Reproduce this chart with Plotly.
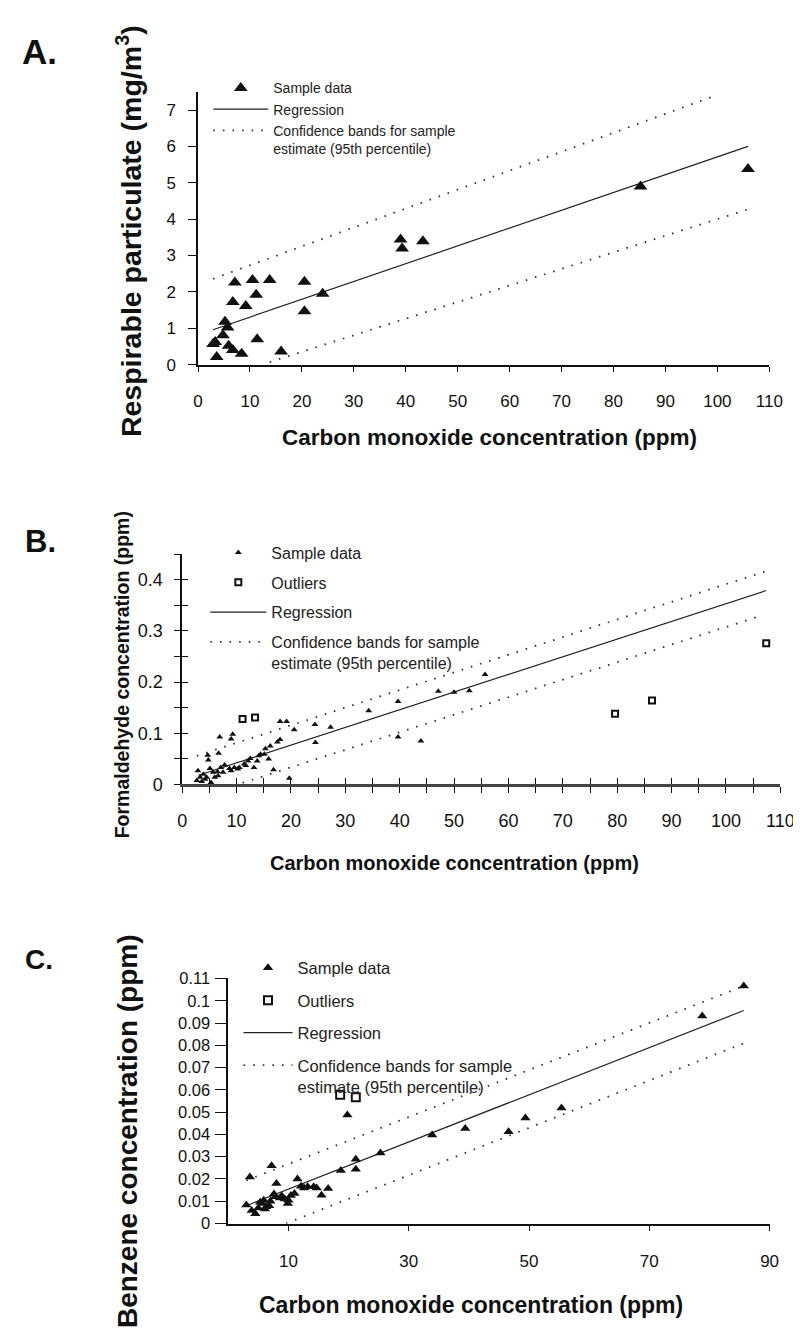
import plotly.graph_objects as go

W, H = 801, 1330
FONT = "Liberation Sans, Arial, sans-serif"
INK = "#111111"

# ---------------- Panel A: respirable particulate vs CO ----------------
A_CO = [2.9, 3.3, 3.6, 4.8, 5.2, 5.7, 5.9, 6.7, 6.7, 7.1, 8.4, 9.2, 10.5, 11.2,
        11.4, 13.8, 16.0, 20.5, 20.5, 24.0, 39.0, 39.3, 43.3, 85.2, 105.9]
A_RP = [0.57, 0.62, 0.21, 0.81, 1.18, 1.02, 0.52, 0.40, 1.72, 2.26, 0.30, 1.61, 2.33, 1.92,
        0.70, 2.33, 0.36, 2.28, 1.47, 1.95, 3.44, 3.19, 3.39, 4.90, 5.38]
A_REG_X = [2.9, 105.9]
A_REG_Y = [0.96, 6.0]
A_UP_X = [2.9, 99.5]
A_UP_Y = [2.36, 7.39]
A_LO_X = [13.8, 105.9]
A_LO_Y = [0.07, 4.27]
A_X_TICKS = [0, 10, 20, 30, 40, 50, 60, 70, 80, 90, 100, 110]
A_Y_TICKS = [0, 1, 2, 3, 4, 5, 6, 7]

# ---------------- Panel B: formaldehyde vs CO ----------------
B_CO = [55.7, 47.1, 50.0, 52.8, 39.7, 34.3, 27.3, 24.4, 24.5, 20.6, 18.0, 19.2, 39.7, 43.9,
        19.7, 16.8, 6.9, 9.3, 9.0, 4.7, 6.7, 18.0, 17.5, 16.2, 15.3, 14.4, 15.1, 15.9,
        12.5, 12.1, 13.2, 11.4, 10.5, 9.6, 8.7, 7.8, 7.1, 6.5, 5.7, 5.1, 4.8, 5.3, 4.5,
        3.9, 3.3, 2.9, 2.7, 3.6, 4.2, 6.0, 6.6, 7.5, 9.0, 10.2, 11.7, 13.8, 14.1, 5.5]
B_HCHO = [0.215, 0.182, 0.180, 0.183, 0.162, 0.144, 0.112, 0.117, 0.082, 0.107, 0.123, 0.123,
          0.093, 0.085, 0.012, 0.029, 0.093, 0.098, 0.089, 0.057, 0.061, 0.088, 0.083, 0.075,
          0.070, 0.059, 0.059, 0.050, 0.051, 0.046, 0.033, 0.040, 0.033, 0.033, 0.031, 0.038,
          0.033, 0.025, 0.024, 0.031, 0.048, 0.004, 0.014, 0.020, 0.014, 0.027, 0.008, 0.006,
          0.010, 0.014, 0.017, 0.024, 0.027, 0.030, 0.037, 0.046, 0.056, 0.000]
B_OUT_CO = [11.1, 13.4, 79.6, 86.4, 107.4]
B_OUT_HCHO = [0.128, 0.131, 0.138, 0.164, 0.276]
B_REG_X = [3.0, 107.4]
B_REG_Y = [0.018, 0.379]
B_UP_X = [2.7, 107.4]
B_UP_Y = [0.056, 0.417]
B_LO_X = [11.1, 106.8]
B_LO_Y = [0.003, 0.331]
B_X_TICKS = [0, 10, 20, 30, 40, 50, 60, 70, 80, 90, 100, 110]
B_Y_TICKS = [0, 0.1, 0.2, 0.3, 0.4]

# ---------------- Panel C: benzene vs CO ----------------
C_CO = [3.6, 7.2, 3.0, 3.9, 4.5, 5.0, 5.6, 5.9, 6.3, 6.8, 7.6, 8.0, 7.8, 8.6, 9.4, 9.9,
        10.4, 11.0, 11.5, 12.1, 13.2, 14.2, 14.7, 15.5, 16.6, 18.7, 21.2, 21.2, 25.3, 19.8,
        33.9, 39.4, 46.6, 49.4, 55.4, 78.8, 85.7, 5.3, 6.1, 7.0, 8.9, 12.6, 10.0]
C_BENZ = [0.0209, 0.0259, 0.0083, 0.0058, 0.0044, 0.0070, 0.0090, 0.0105, 0.0075, 0.0080,
          0.0132, 0.0180, 0.0120, 0.0115, 0.0110, 0.0090, 0.0126, 0.0135, 0.0200, 0.0167,
          0.0165, 0.0165, 0.0160, 0.0127, 0.0157, 0.0238, 0.0288, 0.0244, 0.0317, 0.0487,
          0.0397, 0.0426, 0.0412, 0.0474, 0.0519, 0.0931, 0.1066, 0.0095, 0.0065, 0.0100,
          0.0124, 0.0160, 0.0105]
C_OUT_CO = [18.6, 21.2]
C_OUT_BENZ = [0.0578, 0.0567]
C_REG_X = [3.0, 85.7]
C_REG_Y = [0.0080, 0.0956]
C_UP_X = [3.0, 85.7]
C_UP_Y = [0.0193, 0.1066]
C_LO_X = [9.6, 85.7]
C_LO_Y = [0.0000, 0.0809]
C_X_TICKS = [10, 30, 50, 70, 90]
C_Y_TICKS = [0, 0.01, 0.02, 0.03, 0.04, 0.05, 0.06, 0.07, 0.08, 0.09, 0.1, 0.11]
C_Y_TICKTEXT = ["0", "0.01", "0.02", "0.03", "0.04", "0.05", "0.06", "0.07", "0.08",
                "0.09", "0.1", "0.11"]

LEG_SAMPLE = "Sample data"
LEG_OUT = "Outliers"
LEG_REG = "Regression"
LEG_BAND = "Confidence bands for sample<br>estimate (95th percentile)"


def fx(p):
    return p / W


def fy(p):
    return 1 - p / H


def band(xu, yu, xl, yl):
    return list(xu) + [None] + list(xl), list(yu) + [None] + list(yl)


fig = go.Figure()


def add_panel(xa, ya, leg, co, val, reg_x, reg_y, up_x, up_y, lo_x, lo_y,
              msize, out_co=None, out_val=None, osize=7, dash="1.6px,8px"):
    bx, by = band(up_x, up_y, lo_x, lo_y)
    fig.add_trace(go.Scatter(x=bx, y=by, mode="lines", name=LEG_BAND, legend=leg,
                             legendgroup=leg + "d", legendrank=4,
                             line=dict(color="#333", width=1.8, dash=dash),
                             xaxis=xa, yaxis=ya, cliponaxis=False))
    fig.add_trace(go.Scatter(x=reg_x, y=reg_y, mode="lines", name=LEG_REG, legend=leg,
                             legendgroup=leg + "c", legendrank=3,
                             line=dict(color="#222", width=1.2),
                             xaxis=xa, yaxis=ya, cliponaxis=False))
    fig.add_trace(go.Scatter(x=co, y=val, mode="markers", name=LEG_SAMPLE, legend=leg,
                             legendgroup=leg + "a", legendrank=1,
                             marker=dict(symbol="triangle-up", size=msize, color=INK,
                                         line=dict(width=0)),
                             xaxis=xa, yaxis=ya, cliponaxis=False))
    if out_co is not None:
        fig.add_trace(go.Scatter(x=out_co, y=out_val, mode="markers", name=LEG_OUT,
                                 legend=leg, legendgroup=leg + "b", legendrank=2,
                                 marker=dict(symbol="square-open", size=osize, color=INK,
                                             line=dict(width=2, color=INK)),
                                 xaxis=xa, yaxis=ya, cliponaxis=False))


add_panel("x", "y", "legend", A_CO, A_RP, A_REG_X, A_REG_Y, A_UP_X, A_UP_Y,
          A_LO_X, A_LO_Y, 12)
add_panel("x2", "y2", "legend2", B_CO, B_HCHO, B_REG_X, B_REG_Y, B_UP_X, B_UP_Y,
          B_LO_X, B_LO_Y, 6, B_OUT_CO, B_OUT_HCHO, 6)
add_panel("x3", "y3", "legend3", C_CO, C_BENZ, C_REG_X, C_REG_Y, C_UP_X, C_UP_Y,
          C_LO_X, C_LO_Y, 9, C_OUT_CO, C_OUT_BENZ, 8)
# carrier trace for the inside half of panel B's crossing ticks
fig.add_trace(go.Scatter(x=[None], y=[None], xaxis="x4", yaxis="y4", showlegend=False,
                         hoverinfo="skip"))

base = dict(showline=True, linecolor=INK, linewidth=1.5, showgrid=False, zeroline=False,
            ticks="outside", tickcolor=INK, tickwidth=1.2, fixedrange=True)

A_dom_x = [fx(189.5), fx(774.7)]
A_dom_y = [fy(352.7), fy(75.9)]
B_dom_x = [fx(173.3), fx(786.0)]
B_dom_y = [fy(778.6), fy(545.0)]
C_dom_x = [fx(220.5), fx(775.0)]
C_dom_y = [fy(1224.0), fy(975.4)]

leg_common = dict(xanchor="left", yanchor="top", bgcolor="rgba(0,0,0,0)",
                  traceorder="grouped", valign="top", itemclick=False,
                  itemdoubleclick=False)

fig.update_layout(
    width=W, height=H, margin=dict(l=0, r=0, t=0, b=0),
    paper_bgcolor="white", plot_bgcolor="rgba(0,0,0,0)",
    font=dict(family=FONT, color=INK),
    xaxis=dict(base, domain=A_dom_x, range=[0, 110], anchor="y", tickvals=A_X_TICKS,
               ticklen=5, linewidth=2, tickfont=dict(size=17), ticklabelstandoff=15),
    yaxis=dict(base, domain=A_dom_y, range=[0, 7.5], anchor="x", tickvals=A_Y_TICKS,
               ticklen=8, tickfont=dict(size=17), ticklabelstandoff=9),
    xaxis2=dict(base, domain=B_dom_x, range=[0, 110], anchor="y2", tickvals=B_X_TICKS,
                ticklen=6, linewidth=2.5, linecolor="#444", tickfont=dict(size=18),
                ticklabelstandoff=12,
                minor=dict(dtick=5, ticks="outside", ticklen=6, tickcolor=INK)),
    yaxis2=dict(base, domain=B_dom_y, range=[0, 0.45], anchor="x2", tickvals=B_Y_TICKS,
                ticklen=6, tickfont=dict(size=18), ticklabelstandoff=8,
                minor=dict(dtick=0.05, ticks="outside", ticklen=6, tickcolor=INK)),
    xaxis4=dict(showline=False, showgrid=False, zeroline=False, overlaying="x2", anchor="y4",
                range=[0, 110], dtick=5, ticks="inside", ticklen=6, tickcolor=INK,
                tickwidth=1.2, showticklabels=False, fixedrange=True),
    yaxis4=dict(showline=False, showgrid=False, zeroline=False, overlaying="y2", anchor="x4",
                range=[0, 0.45], dtick=0.05, ticks="inside", ticklen=6, tickcolor=INK,
                tickwidth=1.2, showticklabels=False, fixedrange=True),
    xaxis3=dict(base, domain=C_dom_x, range=[0, 90], anchor="y3", tickvals=C_X_TICKS,
                ticklen=5, linewidth=2, tickfont=dict(size=17), ticklabelstandoff=16),
    yaxis3=dict(base, domain=C_dom_y, range=[0, 0.11], anchor="x3", tickvals=C_Y_TICKS,
                ticktext=C_Y_TICKTEXT, ticklen=12, tickfont=dict(size=16.5),
                ticklabelstandoff=1),
    showlegend=True,
    legend=dict(leg_common, x=fx(200), y=fy(56.1), font=dict(size=14, color="#222"),
                itemwidth=55, tracegroupgap=0),
    legend2=dict(leg_common, x=fx(197), y=fy(526.1), font=dict(size=16, color="#222"),
                 itemwidth=56, tracegroupgap=6),
    legend3=dict(leg_common, x=fx(231), y=fy(947.1), font=dict(size=16.5, color="#222"),
                 itemwidth=49, tracegroupgap=8),
)

annots = [
    dict(text="<b>A.</b>", x=fx(27), y=fy(35), size=35, angle=0),
    dict(text="<b>B.</b>", x=fx(28), y=fy(532), size=31, angle=0),
    dict(text="<b>C.</b>", x=fx(27), y=fy(956), size=28, angle=0),
    dict(text="<b>Respirable particulate (mg/m<sup>3</sup>)</b>", x=fx(119), y=fy(217),
         size=28.5, angle=-90),
    dict(text="<b>Carbon monoxide concentration (ppm)</b>", x=fx(488.5), y=fy(427),
         size=22.5, angle=0),
    dict(text="<b>Formaldehyde concentration (ppm)</b>", x=fx(112), y=fy(667.5),
         size=19.5, angle=-90),
    dict(text="<b>Carbon monoxide concentration (ppm)</b>", x=fx(452.7), y=fy(858.3),
         size=20, angle=0),
    dict(text="<b>Benzene concentration (ppm)</b>", x=fx(118), y=fy(1130), size=28,
         angle=-90),
    dict(text="<b>Carbon monoxide concentration (ppm)</b>", x=fx(468.8), y=fy(1307),
         size=23, angle=0),
]
for a in annots:
    fig.add_annotation(text=a["text"], x=a["x"], y=a["y"], xref="paper", yref="paper",
                       xanchor="center", yanchor="middle", showarrow=False,
                       textangle=a["angle"], font=dict(size=a["size"], color=INK, family=FONT))

fig.write_html("out.html", config={"displayModeBar": False})
